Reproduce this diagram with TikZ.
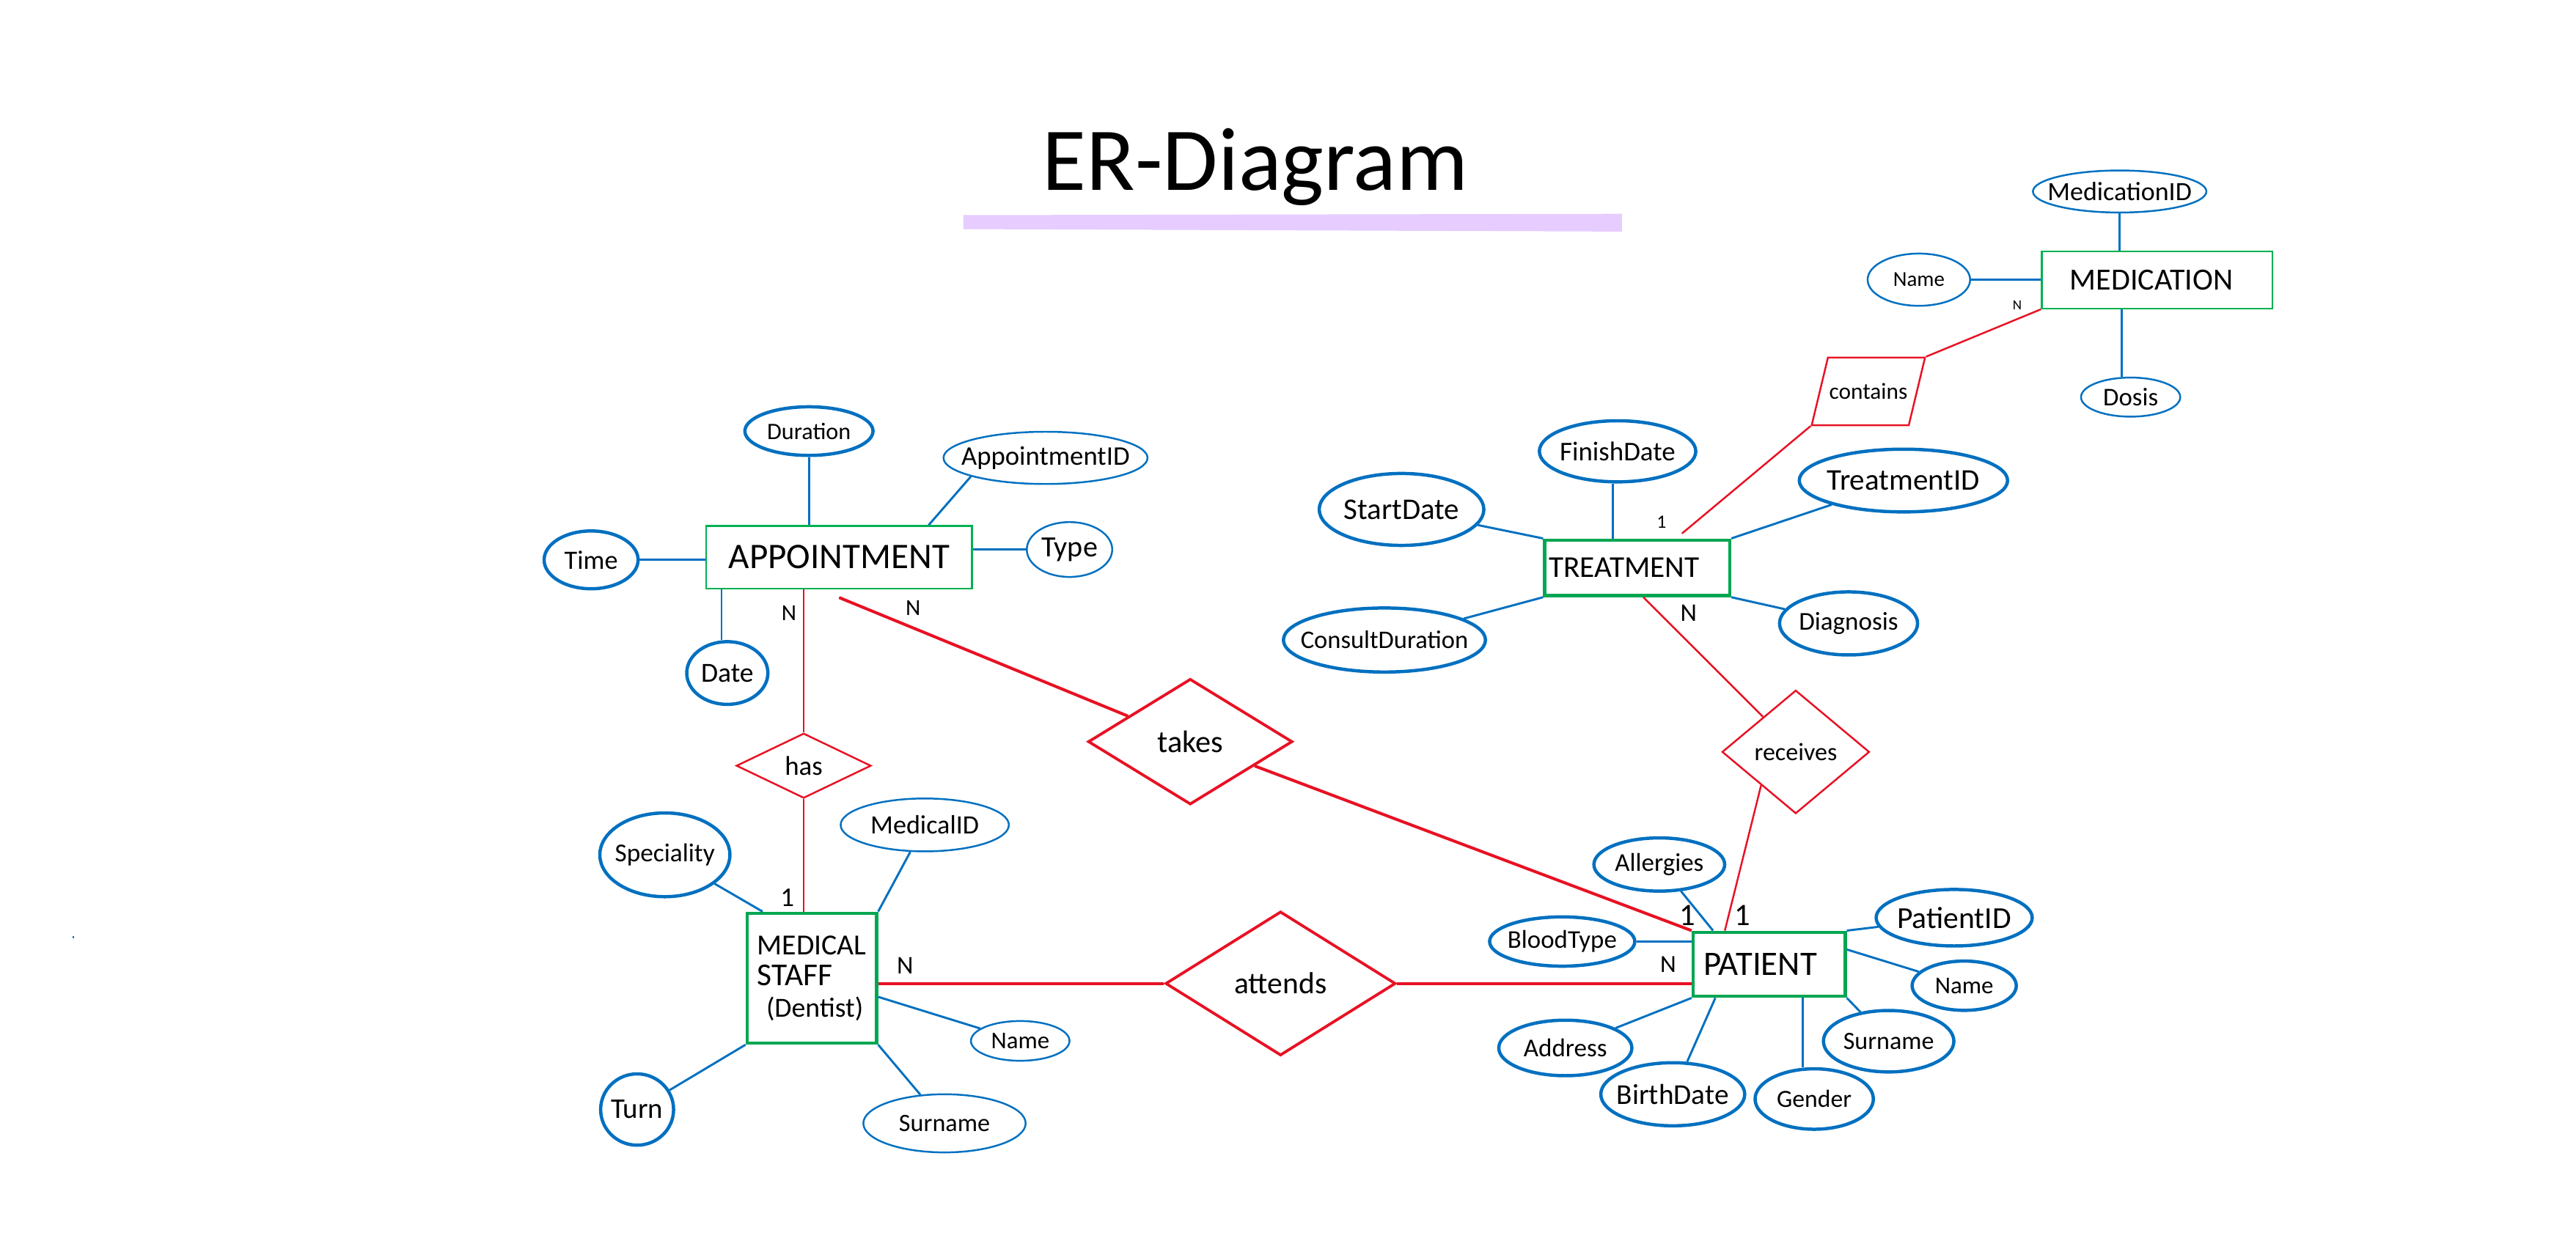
\documentclass[tikz,border=0pt]{standalone}
\usepackage{fontspec}
\setmainfont{Carlito}
\usepackage{graphicx}
\usetikzlibrary{shapes.geometric}
\definecolor{erblue}{RGB}{0,112,192}
\definecolor{erred}{RGB}{232,17,35}
\definecolor{ergreen}{RGB}{0,176,80}
\definecolor{ergreenD}{RGB}{0,166,81}
\definecolor{erband}{RGB}{230,204,255}
\newcommand{\tw}[2]{\resizebox{#1pt}{!}{#2}}
\newcommand{\tz}[2]{\makebox[0pt][c]{\resizebox{#1pt}{!}{#2}}}
\begin{document}
\begin{tikzpicture}[x=1pt,y=-1pt,
  font=\fontsize{14}{16}\selectfont,
  attrthick/.style={ellipse, draw=erblue, line width=2pt, inner sep=0pt},
  attrthin/.style={ellipse, draw=erblue, line width=1.1pt, inner sep=0pt},
  entthin/.style={rectangle, draw=ergreen, line width=1.1pt, inner sep=0pt},
  entthick/.style={rectangle, draw=ergreenD, line width=1.9pt, inner sep=0pt},
  relthin/.style={diamond, draw=erred, line width=1.1pt, inner sep=0pt},
  relthick/.style={diamond, draw=erred, line width=1.7pt, inner sep=0pt},
  relpar/.style={trapezium, trapezium left angle=76.5, trapezium right angle=103.5, draw=erred, line width=1.1pt, inner sep=0pt},
  blink/.style={draw=erblue, line width=1.3pt},
  rthin/.style={draw=erred, line width=1.1pt},
  rthick/.style={draw=erred, line width=1.8pt},
  card/.style={inner sep=0pt}
]
\fill[white] (0,0) rectangle (1568,762);
\useasboundingbox (0,0) rectangle (1568,762);

% title
\fill[erband] (586.4,131) -- (987.2,130.2) -- (987.2,141) -- (586.4,139.5) -- cycle;
\node[anchor=base, inner sep=0pt] (title) at (764.2,116) {\tw{259}{ER-Diagram}};

% stray mark
\fill[erblue] (44.3,569.9) rectangle (44.9,571.3);

% ---------------- APPOINTMENT
\node[entthin, minimum width=161.9, minimum height=38] (app) at (510.75,339.3) {\tw{134.5}{APPOINTMENT}};
\node[attrthick, minimum width=78, minimum height=29.6] (dur) at (492.4,262.5) {\tz{51}{Duration}};
\node[attrthin, minimum width=124.2, minimum height=31.8] (appid) at (636.4,278.8) {\tz{102.5}{AppointmentID}};
\node[attrthick, minimum width=57.2, minimum height=35.2] (time) at (359.8,340.9) {\tz{32.5}{Time}};
\node[attrthin, minimum width=52, minimum height=33.4] (type) at (651,334.6) {\tz{34.3}{Type}};
\node[attrthick, minimum width=49.4, minimum height=38.2] (date) at (442.7,409.8) {\tz{32}{Date}};
\node[relthin, minimum width=82, minimum height=39.5] (has) at (489.2,466.25) {\tw{23}{has}};
\node[relthick, minimum width=124.4, minimum height=76.5] (takes) at (724.5,451.6) {\tw{40}{takes}};

% ---------------- MEDICAL STAFF
\node[entthick, minimum width=78.9, minimum height=79.2, align=left, font=\fontsize{12}{19}\selectfont] (ms) at (494.15,595.6) {\tw{66.4}{MEDICAL}\\\tw{45.8}{STAFF}\\\hspace*{5.5pt}\tw{59}{(Dentist)}};
\node[attrthick, minimum width=79.2, minimum height=51] (spec) at (404.7,520.5) {\tz{60.8}{Speciality}};
\node[attrthin, minimum width=102.4, minimum height=32.2] (medid) at (562.9,502.3) {\tz{66}{MedicalID}};
\node[attrthin, minimum width=60, minimum height=24.2] (msname) at (621,633.8) {\tz{35.5}{Name}};
\node[attrthin, minimum width=98.8, minimum height=35.4] (mssur) at (574.9,684) {\tz{55.4}{Surname}};
\node[attrthick, minimum width=44.4, minimum height=43.4] (turn) at (387.8,675.6) {\tz{31.7}{Turn}};
\node[relthick, minimum width=140.1, minimum height=87.7] (att) at (779.45,598.85) {\tw{56.2}{attends}};

% ---------------- PATIENT
\node[entthick, minimum width=92.6, minimum height=39.1] (pat) at (1076.9,587.15) {\tw{69}{PATIENT}\hspace*{11pt}};
\node[attrthick, minimum width=79.6, minimum height=32.4] (all) at (1010,526.4) {\tz{54}{Allergies}};
\node[attrthick, minimum width=88.4, minimum height=30] (bt) at (950.9,573.3) {\tz{66.5}{BloodType}};
\node[attrthick, minimum width=95, minimum height=34.4] (pid) at (1189.5,558.8) {\tz{69.5}{PatientID}};
\node[attrthick, minimum width=63.4, minimum height=30] (pname) at (1195.6,600.2) {\tz{35.6}{Name}};
\node[attrthick, minimum width=79.4, minimum height=37.4] (psur) at (1149.6,634) {\tz{55.2}{Surname}};
\node[attrthick, minimum width=72, minimum height=36.8] (gen) at (1104.3,669.2) {\tz{45.5}{Gender}};
\node[attrthick, minimum width=87.6, minimum height=38.4] (bd) at (1018.2,666.3) {\tz{68.2}{BirthDate}};
\node[attrthick, minimum width=81, minimum height=33.8] (addr) at (952.8,638.1) {\tz{50.8}{Address}};

% ---------------- TREATMENT
\node[entthick, minimum width=112.7, minimum height=33.9] (trt) at (996.55,345.75) {\tw{91.7}{TREATMENT}\hspace*{16pt}};
\node[attrthick, minimum width=95.2, minimum height=37.2] (fd) at (984.6,274.8) {\tz{70.4}{FinishDate}};
\node[attrthick, minimum width=100.2, minimum height=43.8] (sd) at (853.1,310.2) {\tz{70.4}{StartDate}};
\node[attrthick, minimum width=126.8, minimum height=38.2] (tid) at (1158.6,292.6) {\tz{93}{TreatmentID}};
\node[attrthick, minimum width=123, minimum height=39] (cd) at (842.7,389.7) {\tz{102}{ConsultDuration}};
\node[attrthick, minimum width=84, minimum height=38.4] (diag) at (1125.2,379.6) {\tz{60.4}{Diagnosis}};
\node[relthin, minimum width=89.7, minimum height=75.1] (rec) at (1093.05,457.85) {\tw{50.3}{receives}};
\node[relpar] (cont) at (1137.25,238.3) {\parbox[c][41.2pt][c]{49.2pt}{\centering\tw{47.6}{contains}}};

% ---------------- MEDICATION
\node[entthin, minimum width=140.5, minimum height=34.6] (med) at (1313.05,170.5) {\tw{99.3}{MEDICATION}\hspace*{7pt}};
\node[attrthin, minimum width=105.6, minimum height=25.6] (mid2) at (1290.2,116.6) {\tz{87.7}{MedicationID}};
\node[attrthin, minimum width=62.4, minimum height=31.8] (mn) at (1168,170.3) {\tz{31.3}{Name}};
\node[attrthin, minimum width=60.4, minimum height=23.8] (dos) at (1296.9,241.8) {\tz{33.5}{Dosis}};

% ---------------- connectors: APPOINTMENT
\draw[blink] (dur.south) -- (dur.south |- app.north);
\draw[blink] (appid.194) -- ([xshift=54.5pt]app.north);
\draw[blink] (time.east) -- (time.east -| app.west);
\draw[blink] (type.west) -- (type.west -| app.east);
\draw[blink] ([xshift=-3.5pt]date.north) -- ([xshift=-3.5pt]date.north |- app.south);
\draw[rthin] (has.north |- app.south) -- (has.north);
\draw[rthick] ([yshift=-5pt]app.south) -- (takes);
\draw[rthick] (takes) -- (pat.north west);

% MEDICAL STAFF
\draw[rthin] (has.south) -- (has.south |- ms.north);
\draw[blink] (spec) -- ([xshift=-30pt]ms.north);
\draw[blink] (medid) -- (ms.north east);
\draw[blink] ([yshift=-11.4pt]ms.east) -- (msname);
\draw[blink] (ms.south east) -- (mssur);
\draw[blink] (ms.south west) -- (turn);
\draw[rthick] (ms.east |- att.west) -- (att.west);
\draw[rthick] (att.east) -- (att.east -| pat.west);

% PATIENT
\draw[blink] (all) -- ([xshift=-34.2pt]pat.north);
\draw[blink] (bt.east) -- (bt.east -| pat.west);
\draw[blink] (pat.north east) -- (pid);
\draw[blink] ([yshift=9pt]pat.east) -- (pname);
\draw[blink] (pat.south east) -- (psur);
\draw[blink] ([xshift=20.5pt]pat.south) -- ([xshift=20.5pt]pat.south |- gen.north);
\draw[blink] ([xshift=-32.8pt]pat.south) -- (bd);
\draw[blink] (pat.south west) -- (addr);
\draw[rthin] (rec.224) -- ([xshift=-27pt]pat.north);

% TREATMENT
\draw[blink] ([xshift=-3pt]fd.south) -- ([xshift=-3pt]fd.south |- trt.north);
\draw[blink] (sd) -- (trt.north west);
\draw[blink] (tid) -- (trt.north east);
\draw[blink] (cd) -- (trt.south west);
\draw[blink] (trt.south east) -- (diag);
\draw[rthin] ([xshift=3.75pt]trt.south) -- (rec.133);
\draw[rthin] ([xshift=27.25pt,yshift=3pt]trt.north) -- (cont.bottom left corner);
\draw[rthin] (cont.top right corner) -- (med.south west);

% MEDICATION
\draw[blink] (mid2.south) -- (mid2.south |- med.north);
\draw[blink] (mn.east) -- (mn.east -| med.west);
\draw[blink] ([xshift=-5.3pt]dos.north) -- ([xshift=-5.3pt]dos.north |- med.south);

% cardinalities
\node[card, font=\fontsize{14}{14}\selectfont] (c1) at (480.3,373.2) {N};
\node[card, font=\fontsize{14}{14}\selectfont] (c2) at (555.8,370) {N};
\node[card, font=\fontsize{16.5}{16}\selectfont] (c3) at (479.2,546.8) {1};
\node[card, font=\fontsize{15.5}{16}\selectfont] (c4) at (550.9,588.2) {N};
\node[card, font=\fontsize{15}{16}\selectfont] (c5) at (1015.4,587.1) {N};
\node[card, font=\fontsize{19}{19}\selectfont] (c6) at (1027,557.5) {1};
\node[card, font=\fontsize{19}{19}\selectfont] (c7) at (1060.8,557.5) {1};
\node[card, font=\fontsize{15.5}{16}\selectfont] (c8) at (1027.8,373.5) {N};
\node[card, font=\fontsize{11.5}{12}\selectfont] (c9) at (1011.3,317.7) {1};
\node[card, font=\fontsize{8.5}{9}\selectfont] (c10) at (1227.9,186) {N};
\end{tikzpicture}
\end{document}
